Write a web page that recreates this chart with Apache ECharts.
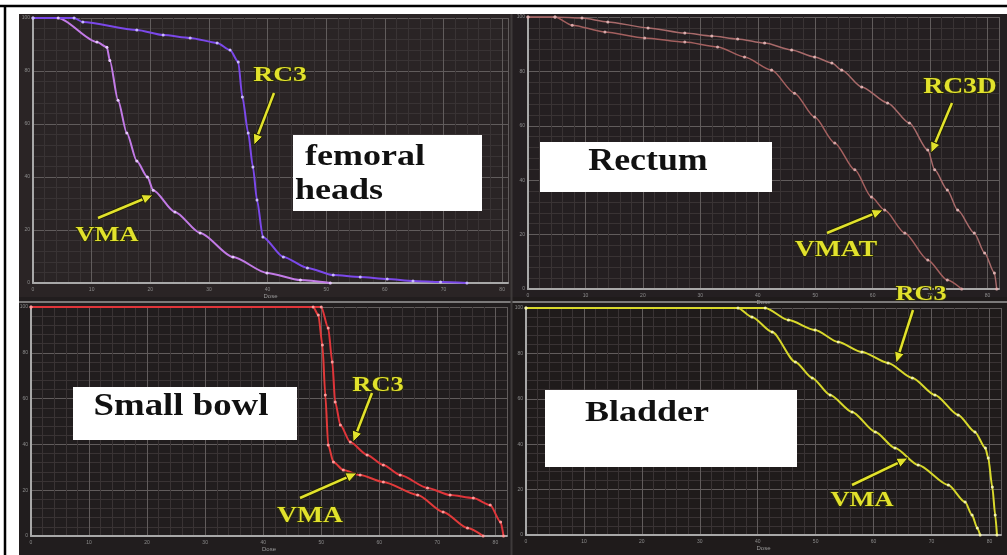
<!DOCTYPE html>
<html>
<head>
<meta charset="utf-8">
<title>DVH comparison</title>
<script src="https://cdn.jsdelivr.net/npm/echarts@6.0.0/dist/echarts.min.js"></script>
<style>
  html, body { margin: 0; padding: 0; background: #fff; }
  #main { width: 1007px; height: 555px; }
</style>
</head>
<body>
<div id="main"></div>
<script>
// 剂量(Gy) / 体积(%) —— 点
const femVmaDose = [0, 4.3, 10.9, 12.6, 13.1, 14.5, 16.0, 17.7, 19.5, 20.5, 24.2, 28.5, 34.1, 39.9, 45.6, 50.7]
const femVmaVol  = [100, 100, 90.9, 89, 84, 69, 56.6, 46, 40, 35, 26.8, 18.9, 9.8, 3.8, 1.1, 0]
const femRc3Dose = [0, 7, 8.5, 17.7, 22.2, 26.8, 31.4, 33.6, 35.0, 35.7, 36.7, 37.5, 38.2, 39.2, 42.7, 46.8, 51.2, 55.8, 60.4, 64.8, 69.5, 74]
const femRc3Vol  = [100, 100, 98.5, 95.5, 93.6, 92.5, 90.6, 87.9, 83.4, 70.2, 56.6, 43.8, 31.3, 17.4, 9.8, 5.7, 3.0, 2.3, 1.5, 0.8, 0.4, 0]

const recVmatDose = [0, 4.7, 7.7, 13.4, 20.3, 27.3, 33.0, 37.7, 42.4, 46.4, 49.9, 53.4, 56.9, 59.8, 62.1, 65.6, 69.6, 73, 75.5]
const recVmatVol  = [100, 100, 97, 94.5, 92.3, 90.8, 89, 85.3, 80.5, 72, 63.2, 53.7, 43.8, 33.8, 29, 20.6, 10.7, 3.3, 0]
const recRc3dDose = [0, 4.7, 9.4, 13.9, 20.9, 27.3, 32.0, 36.5, 41.2, 45.9, 49.9, 52.9, 54.6, 58.1, 62.6, 66.4, 69.6, 70.8, 73.0, 74.8, 77.7, 79.5, 81.2, 81.6]
const recRc3dVol  = [100, 100, 99.6, 98.2, 96, 94.1, 93, 91.9, 90.4, 87.9, 85.3, 83.1, 80.5, 74.3, 68.4, 61, 51.1, 43.8, 36.4, 29, 20.6, 13.2, 5.9, 0]

const sbVmaDose = [0, 48.6, 49.5, 50.2, 50.7, 51.2, 52.1, 53.8, 56.7, 60.7, 66.6, 71.0, 75.2, 77.9]
const sbVmaVol  = [100, 100, 96.5, 83.4, 61.6, 39.7, 32.3, 28.8, 26.6, 23.6, 17.9, 10.5, 3.5, 0]
const sbRc3Dose = [0, 50.0, 51.2, 51.9, 52.4, 53.3, 55, 57.9, 60.7, 63.6, 68.3, 72.2, 76.2, 79.1, 80.9, 81.4]
const sbRc3Vol  = [100, 100, 90.8, 76, 58.5, 48.5, 41, 35.4, 31, 26.6, 21, 17.9, 16.6, 13.5, 6.1, 0]

const blVmaDose = [0, 36.6, 39.0, 42.5, 46.5, 49.4, 52.5, 56.3, 60.3, 63.7, 67.7, 72.9, 75.8, 77.0, 77.9, 78.4]
const blVmaVol  = [100, 100, 96, 89.4, 76.2, 69.2, 61.7, 54.2, 45.4, 38.3, 30.8, 22, 14.5, 8.8, 3.1, 0]
const blRc3Dose = [0, 41.3, 45.3, 49.9, 53.9, 58.0, 62.5, 66.7, 70.6, 74.6, 77.5, 79.3, 79.8, 80.5, 81.0, 81.3]
const blRc3Vol  = [100, 100, 94.7, 90.3, 85, 80.6, 75.8, 69.2, 61.7, 52.9, 45.4, 38.3, 33.9, 21.1, 8.8, 0]

// 每个面板的x轴上限
const doseMax = [81, 82, 82, 82]

const zip = (xs, ys) => xs.map((x, i) => [x, ys[i]])

const chart = echarts.init(document.getElementById('main'))

// 面板布局(像素)
const grids = [
    { left: 33, top: 18, width: 475, height: 265 },
    { left: 528, top: 17, width: 471, height: 272 },
    { left: 31, top: 307, width: 476, height: 229 },
    { left: 526, top: 308, width: 475, height: 227 }
]

const xAxes = grids.map((g, i) => ({
    type: 'value', gridIndex: i, min: 0, max: doseMax[i], interval: 10,
    name: 'Dose', nameLocation: 'middle', nameGap: 8,
    nameTextStyle: { color: '#9a9a9a', fontSize: 6 },
    axisLine: { show: true, lineStyle: { color: '#a8a8a8', width: 2 } },
    axisTick: { show: false },
    axisLabel: { color: '#8c8c8c', fontSize: 5, margin: 4, showMaxLabel: false },
    splitLine: { show: true, lineStyle: { color: '#615c5c', width: 1 } },
    minorTick: { show: false, splitNumber: 5 },
    minorSplitLine: { show: true, lineStyle: { color: '#393334', width: 1 } }
}))

const yAxes = grids.map((g, i) => ({
    type: 'value', gridIndex: i, min: 0, max: 100, interval: 20,
    axisLine: { show: true, lineStyle: { color: '#a8a8a8', width: 2 } },
    axisTick: { show: false },
    axisLabel: { color: '#8c8c8c', fontSize: 5, margin: 3 },
    splitLine: { show: true, lineStyle: { color: '#615c5c', width: 1 } },
    minorTick: { show: false, splitNumber: 5 },
    minorSplitLine: { show: true, lineStyle: { color: '#393334', width: 1 } }
}))

function dvh(name, idx, data, color, dot, width) {
    return {
        name, type: 'line', xAxisIndex: idx, yAxisIndex: idx,
        data, smooth: 0.25, smoothMonotone: 'x',
        symbol: 'circle', symbolSize: 3, showSymbol: true,
        lineStyle: { color, width },
        itemStyle: { color: dot, borderWidth: 0 },
        z: 5, animation: false
    }
}

// 标注: 黄色字 + 箭头
const yellow = '#e2e22c'
function tag(text, x, y, size, sx) {
    return {
        type: 'text', x, y, scaleX: sx, z: 30,
        style: {
            text, x: 0, y: 0, align: 'center', verticalAlign: 'middle',
            font: 'bold ' + size + 'px "Liberation Serif"',
            fill: yellow, stroke: '#2b2b12', lineWidth: 2
        }
    }
}
function arrow(x1, y1, x2, y2) {
    const a = Math.atan2(y2 - y1, x2 - x1)
    const L = 11, W = 5
    const bx = x2 - L * Math.cos(a), by = y2 - L * Math.sin(a)
    const px = -Math.sin(a) * W, py = Math.cos(a) * W
    return [
        { type: 'line', z: 29, shape: { x1, y1, x2: bx, y2: by }, style: { stroke: '#1d1d0a', lineWidth: 4.5 } },
        { type: 'line', z: 30, shape: { x1, y1, x2: bx, y2: by }, style: { stroke: yellow, lineWidth: 2.5 } },
        { type: 'polygon', z: 30, shape: { points: [[x2, y2], [bx + px, by + py], [bx - px, by - py]] },
          style: { fill: yellow, stroke: '#1d1d0a', lineWidth: 1 } }
    ]
}
function box(x, y, w, h) {
    return { type: 'rect', z: 20, shape: { x, y, width: w, height: h }, style: { fill: '#ffffff' } }
}
function boxText(text, x, y, size, sx, align) {
    return {
        type: 'text', x, y, scaleX: sx, z: 21,
        style: {
            text, x: 0, y: 0, align: align || 'center', verticalAlign: 'middle',
            font: 'bold ' + size + 'px "Liberation Serif"', fill: '#111111'
        }
    }
}

const graphics = [
    // 外框与面板底色
    { type: 'rect', z: -10, shape: { x: 19, y: 14, width: 493, height: 283 }, style: { fill: '#2a2425' } },
    { type: 'rect', z: -10, shape: { x: 512, y: 14, width: 495, height: 283 }, style: { fill: '#241f21' } },
    { type: 'rect', z: -10, shape: { x: 19, y: 297, width: 493, height: 258 }, style: { fill: '#211d1e' } },
    { type: 'rect', z: -10, shape: { x: 512, y: 297, width: 495, height: 258 }, style: { fill: '#1f1b1b' } },
    { type: 'line', z: -9, shape: { x1: 19, y1: 302, x2: 1007, y2: 302 }, style: { stroke: '#7c7a7a', lineWidth: 2 } },
    { type: 'line', z: -9, shape: { x1: 511.5, y1: 14, x2: 511.5, y2: 555 }, style: { stroke: '#3e3a3a', lineWidth: 2 } },
    { type: 'line', z: 40, shape: { x1: 0, y1: 6, x2: 1007, y2: 6 }, style: { stroke: '#000', lineWidth: 2.5 } },
    { type: 'line', z: 40, shape: { x1: 5, y1: 5, x2: 5, y2: 555 }, style: { stroke: '#000', lineWidth: 2.5 } },

    // 白色标题框
    box(293, 135, 189, 76),
    boxText('femoral', 305, 157, 30, 1.2, 'left'),
    boxText('heads', 295, 191, 30, 1.2, 'left'),
    box(540, 142, 232, 50),
    boxText('Rectum', 648, 162, 32, 1.12),
    box(73, 387, 224, 53),
    boxText('Small bowl', 181, 407, 32, 1.15),
    box(545, 390, 252, 77),
    boxText('Bladder', 647, 413, 30, 1.2),

    // 黄色标签
    tag('RC3', 280, 75, 22, 1.25),
    tag('VMA', 107, 235, 22, 1.2),
    tag('RC3D', 960, 87, 23, 1.2),
    tag('VMAT', 836, 250, 23, 1.2),
    tag('RC3', 378, 385, 22, 1.2),
    tag('VMA', 310, 516, 23, 1.2),
    tag('RC3', 921, 295, 21, 1.25),
    tag('VMA', 862, 500, 22, 1.2),
    ...arrow(274, 93, 254, 145),
    ...arrow(98, 218, 153, 195),
    ...arrow(952, 103, 931, 153),
    ...arrow(827, 233, 883, 210),
    ...arrow(372, 393, 353, 442),
    ...arrow(300, 498, 357, 473),
    ...arrow(913, 310, 896, 363),
    ...arrow(852, 485, 908, 458)
]

const option = {
    backgroundColor: '#ffffff',
    animation: false,
    grid: grids.map(g => ({ ...g, containLabel: false })),
    xAxis: xAxes,
    yAxis: yAxes,
    series: [
        dvh('VMA', 0, zip(femVmaDose, femVmaVol), '#c27ae6', '#e8c8ff', 2),
        dvh('RC3', 0, zip(femRc3Dose, femRc3Vol), '#7b48ea', '#c9b8ff', 2),
        dvh('VMAT', 1, zip(recVmatDose, recVmatVol), '#a4605f', '#d8a8a8', 1.5),
        dvh('RC3D', 1, zip(recRc3dDose, recRc3dVol), '#a86a6a', '#dcb0b0', 1.5),
        dvh('VMA', 2, zip(sbVmaDose, sbVmaVol), '#e23a3a', '#ff9a9a', 2),
        dvh('RC3', 2, zip(sbRc3Dose, sbRc3Vol), '#e0353a', '#ff9a9a', 2),
        dvh('VMA', 3, zip(blVmaDose, blVmaVol), '#d6d62a', '#f4f4a8', 2),
        dvh('RC3', 3, zip(blRc3Dose, blRc3Vol), '#d9d92c', '#f4f4a8', 2)
    ],
    graphic: graphics
}

chart.setOption(option)
</script>
</body>
</html>
